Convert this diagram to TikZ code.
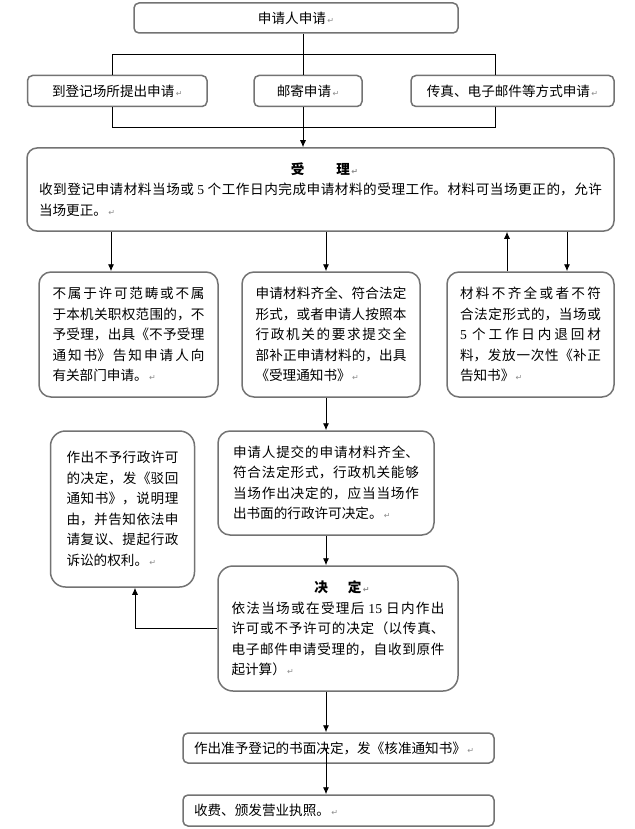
\documentclass[tikz,border=0pt]{standalone}
\usepackage{fontspec}
\setmainfont{Liberation Serif}
\newfontfamily\cjk{Noto Sans CJK SC}
\newfontfamily\numfont{Liberation Serif}
\newfontfamily\symfont{DejaVu Sans}
\usetikzlibrary{arrows.meta}
\usetikzlibrary{positioning}
\XeTeXlinebreaklocale "zh"
\XeTeXlinebreakskip=0pt plus 2pt
\newcommand{\retmark}{{\symfont\fontsize{8}{8}\selectfont\color{black!45}\,↵}}

\begin{document}
\begin{tikzpicture}[x=1pt, y=-1pt,
      box/.style ={rectangle, draw=black!55, line width=1.5pt, fill=white, rounded corners=5pt, inner sep=0pt, font=\cjk\fontsize{13.6}{20.5}\selectfont},
      card/.style ={box, rounded corners=12pt, align=justify},
      flow/.style ={-{Latex[length=7pt,width=6pt]}, line width=0.9pt}
    ]
    \useasboundingbox (0,0) rectangle (634,829);

    \node [box, minimum width=324pt, minimum height=30pt] (apply) at (296,18) {申请人申请\retmark} ;
    \node [box, minimum width=179.5pt, minimum height=31pt] (onsite) at (117.25,91) {到登记场所提出申请\retmark} ;
    \node [box, minimum width=108pt, minimum height=31pt] (post) at (308,91) {邮寄申请\retmark} ;
    \node [box, minimum width=203pt, minimum height=31pt] (fax) at (512.5,91) {传真、电子邮件等方式申请\retmark} ;

    \node [card, rounded corners=10pt, minimum width=587pt, minimum height=83pt, text width=563pt] (accept) at (320.5,189.5)
      {\makebox[\linewidth]{\bfseries 受\hspace{32pt}理\rlap{\retmark}}\\
       收到登记申请材料当场或 {\numfont 5} 个工作日内完成申请材料的受理工作。材料可当场更正的，允许\linebreak
       当场更正。\retmark} ;

    \node [card, minimum width=179pt, minimum height=125pt, text width=152pt] (reject) at (128.5,334.5)
      {不属于许可范畴或不属\linebreak
       于本机关职权范围的，不\linebreak
       予受理，出具《不予受理\linebreak
       通知书》告知申请人向\linebreak
       有关部门申请。\retmark} ;
    \node [card, minimum width=178pt, minimum height=125pt, text width=151pt] (complete) at (331,334.5)
      {申请材料齐全、符合法定\linebreak
       形式，或者申请人按照本\linebreak
       行政机关的要求提交全\linebreak
       部补正申请材料的，出具\linebreak
       《受理通知书》\retmark} ;
    \node [card, minimum width=167pt, minimum height=125pt, text width=141pt] (amend) at (530.5,334.5)
      {材料不齐全或者不符\linebreak
       合法定形式的，当场或\linebreak
       {\numfont 5} 个工作日内退回材\linebreak
       料，发放一次性《补正\linebreak
       告知书》\retmark} ;

    \node [card, rounded corners=15pt, minimum width=144pt, minimum height=156pt, text width=112pt] (deny) at (122.5,509)
      {作出不予行政许可\linebreak
       的决定，发《驳回\linebreak
       通知书》，说明理\linebreak
       由，并告知依法申\linebreak
       请复议、提起行政\linebreak
       诉讼的权利。\retmark} ;
    \node [card, minimum width=216pt, minimum height=104pt, text width=186pt] (onspot) at (326,483)
      {申请人提交的申请材料齐全、\linebreak
       符合法定形式，行政机关能够\linebreak
       当场作出决定的，应当当场作\linebreak
       出书面的行政许可决定。\retmark} ;

    \node [card, rounded corners=15pt, minimum width=240pt, minimum height=125pt, text width=213pt] (decide) at (338,628.5)
      {\makebox[\linewidth]{\bfseries 决\hspace{20pt}定\rlap{\retmark}}\\
       依法当场或在受理后 {\numfont 15} 日内作出\linebreak
       许可或不予许可的决定（以传真、\linebreak
       电子邮件申请受理的，自收到原件\linebreak
       起计算）\retmark} ;

    \node [box, align=left, minimum width=311pt, minimum height=30pt, text width=289pt] (approve) at (338.5,748) {作出准予登记的书面决定，发《核准通知书》\retmark} ;
    \node [box, align=left, minimum width=311pt, minimum height=31pt, text width=289pt] (license) at (338.5,810.5) {收费、颁发营业执照。\retmark} ;

    \coordinate (trunk) at (303,0) ;
    \coordinate (tl) at (112,54) ;
    \coordinate (tr) at (495,54) ;
    \coordinate (bl) at (112,127) ;
    \coordinate (br) at (495,127) ;
    \coordinate (col) at (326,0) ;
    \coordinate (left) at (111,0) ;
    \coordinate (up) at (507,0) ;
    \coordinate (down) at (567,0) ;
    \coordinate (back) at (135,0) ;

    \draw [line width=0.9pt] (apply.south -| trunk) -- (post.north -| trunk) ;
    \draw [line width=0.9pt] (onsite.north -| tl) |- (tr) -- (fax.north -| tr) ;
    \draw [line width=0.9pt] (onsite.south -| bl) |- (br) -- (fax.south -| br) ;
    \draw [flow] (post.south -| trunk) -- (accept.north -| trunk) ;

    \draw [flow] (accept.south -| left) -- (reject.north -| left) ;
    \draw [flow] (accept.south -| col) -- (complete.north -| col) ;
    \draw [flow] (amend.north -| up) -- (accept.south -| up) ;
    \draw [flow] (accept.south -| down) -- (amend.north -| down) ;

    \draw [flow] (complete.south -| col) -- (onspot.north -| col) ;
    \draw [flow] (onspot.south -| col) -- (decide.north -| col) ;
    \draw [flow] (decide.west) -| (deny.south -| back) ;
    \draw [flow] (decide.south -| col) -- (approve.north -| col) ;
    \draw [flow] (approve.center -| col) -- (license.north -| col) ;
  \end{tikzpicture}
\end{document}
